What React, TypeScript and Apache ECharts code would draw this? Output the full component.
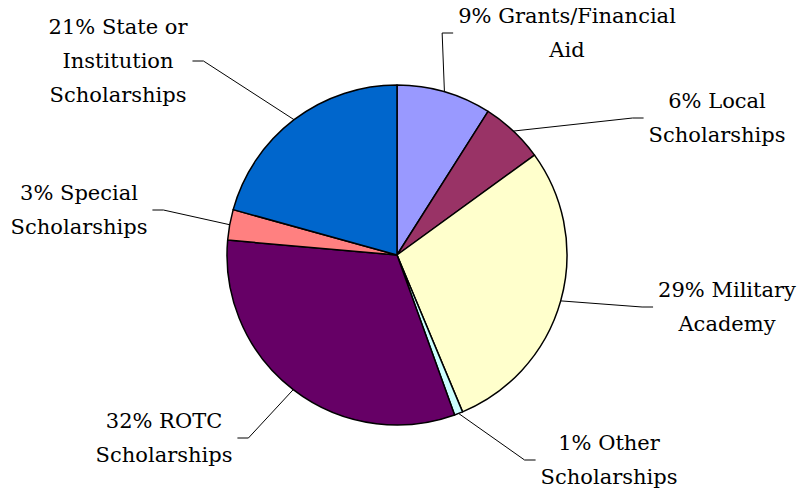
import React, { useEffect, useRef } from "react";
import * as echarts from "echarts";

// Data
const categories = [
  "Grants/Financial\nAid",
  "Local\nScholarships",
  "Military\nAcademy",
  "Other\nScholarships",
  "ROTC\nScholarships",
  "Special\nScholarships",
  "State or\nInstitution\nScholarships",
];
const values = [9.0, 6.0, 28.7, 0.8, 31.9, 2.9, 20.7];
const colors = ["#9999FF", "#993366", "#FFFFCC", "#CCFFFF", "#660066", "#FF8080", "#0066CC"];

// Label layout (label block centre x, middle y; side where the leader line attaches)
const LABEL_POS: number[][] = [
  [567, 33],
  [717, 118],
  [727, 307],
  [609, 460],
  [164, 438],
  [79, 210],
  [118, 61],
];
const LABEL_SIDE = ["left", "left", "left", "left", "right", "right", "right"];

export default function App() {
  const ref = useRef<HTMLDivElement>(null);
  useEffect(() => {
    if (!ref.current) return;
    const chart = echarts.init(ref.current, undefined, { renderer: "svg" });
    chart.setOption({
      animation: false,
      backgroundColor: "#ffffff",
      series: [
        {
          type: "pie",
          center: [397, 255],
          radius: 170,
          startAngle: 90,
          clockwise: true,
          avoidLabelOverlap: false,
          data: categories.map((name, i) => ({
            name,
            value: values[i],
            itemStyle: { color: colors[i] },
          })),
          itemStyle: { borderColor: "#000000", borderWidth: 1.5 },
          label: {
            show: true,
            position: "outside",
            formatter: (p: any) => `${Math.round(p.percent)}% ${p.name}`,
            fontFamily: "DejaVu Serif",
            fontSize: 21,
            lineHeight: 34,
            color: "#000000",
            align: "center",
          },
          labelLine: {
            show: true,
            length: 20,
            length2: 10,
            lineStyle: { color: "#000000", width: 1 },
          },
          labelLayout: (params: any) => {
            const i = params.dataIndex;
            const [cx, cy] = LABEL_POS[i];
            const w = params.labelRect.width;
            const left = LABEL_SIDE[i] === "left";
            const ax = left ? cx - w / 2 - 5 : cx + w / 2 + 5;
            const ex = left ? ax - 11 : ax + 11;
            const start = params.labelLinePoints ? params.labelLinePoints[0] : [ex, cy];
            return {
              x: cx,
              y: cy,
              align: "center",
              verticalAlign: "middle",
              labelLinePoints: [start, [ex, cy], [ax, cy]],
            };
          },
        },
      ],
    });
    return () => chart.dispose();
  }, []);
  return (
    <div
      ref={ref}
      style={{ position: "fixed", left: 0, top: 0, width: 798, height: 490, background: "#fff" }}
    />
  );
}
